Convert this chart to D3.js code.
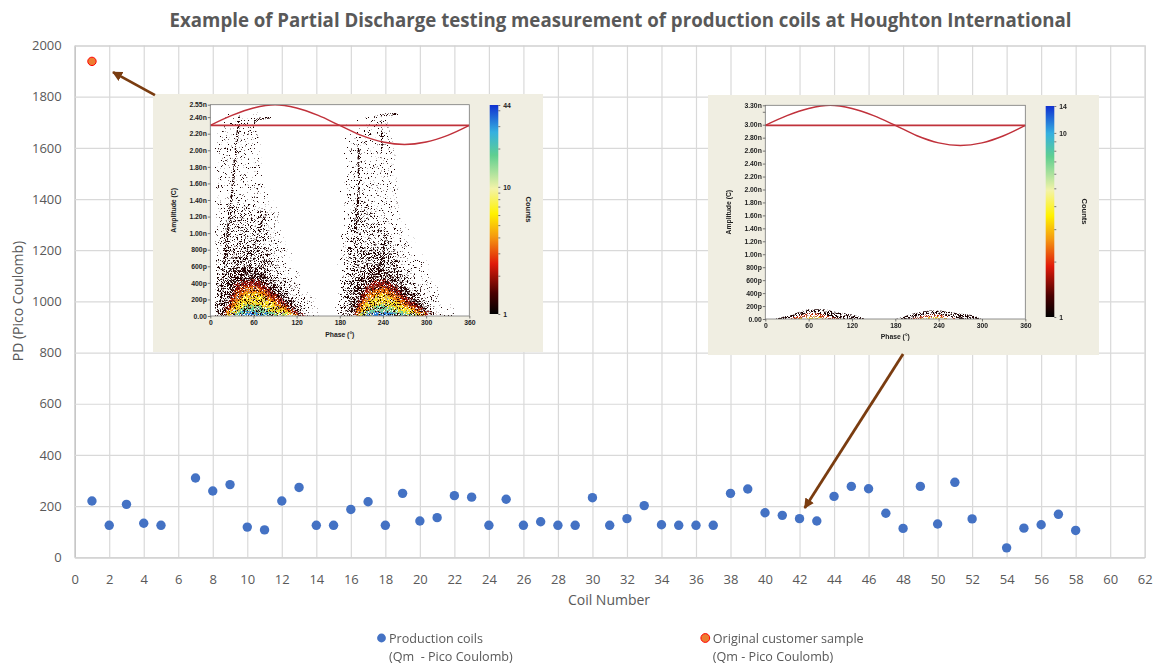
<!DOCTYPE html>
<html>
<head>
<meta charset="utf-8">
<title>Partial Discharge testing</title>
<script src="https://cdn.jsdelivr.net/npm/d3@7"></script>
<style>
  html, body { margin: 0; padding: 0; background: #fff; }
  text { font-family: "Open Sans", sans-serif; }
  .inset text { font-family: "Liberation Sans", sans-serif; font-weight: bold; fill: #222; }
</style>
</head>
<body>
<div id="chart"></div>
<script>
// main chart values
var coilNumbers = [1,2,3,4,5,7,8,9,10,11,12,13,14,15,16,17,18,19,20,21,22,23,24,25,26,27,28,29,30,31,32,33,34,35,36,37,38,39,40,41,42,43,44,45,46,47,48,49,50,51,52,54,55,56,57,58];
var pdValues = [220,125,207,133,125,310,259,284,118,107,220,273,125,125,187,217,125,250,142,155,241,235,125,227,125,139,125,125,233,125,151,202,127,125,125,125,250,267,174,164,151,142,238,277,268,172,113,277,130,293,150,37,114,127,168,105];
var customerCoil = [1];
var customerPd = [1938];
var xTicks = [0,2,4,6,8,10,12,14,16,18,20,22,24,26,28,30,32,34,36,38,40,42,44,46,48,50,52,54,56,58,60,62];
var yTicks = [0,200,400,600,800,1000,1200,1400,1600,1800,2000];

// annotation arrows in chart units: [coil, pC] tail then tip
var arrowOne = [[4.65,1806],[2.22,1896]];
var arrowTwo = [[48.0,794],[42.3,193]];

// the two phase resolved insets, upper limit of each density band per 10 degrees of phase
var phaseGrid = [0,10,20,30,40,50,60,70,80,90,100,110,120,130,140,150,160,170,180,190,200,210,220,230,240,250,260,270,280,290,300,310,320,330,340,350,360];
var phaseTicks = [0,60,120,180,240,300,360];
var refPhase = [0,30,60,90,120,150,180,210,240,270,300,330,360];

var ampTicksA = [0,0.2,0.4,0.6,0.8,1,1.2,1.4,1.6,1.8,2,2.2,2.4,2.55];
var ampLabelsA = ["0.00","200p","400p","600p","800p","1.00n","1.20n","1.40n","1.60n","1.80n","2.00n","2.20n","2.40n","2.55n"];
var sineA = [2.30,2.42,2.51,2.55,2.51,2.42,2.30,2.18,2.10,2.07,2.10,2.18,2.30];
var midA = [2.30,2.30];
var sparseA = [0,1.2,2.2,2.38,2.42,2.42,2.42,2.42,1.5,1.4,1.2,.85,.6,.4,.25,.12,0,0,0,1,2.2,2.2,2.35,2.45,2.45,2.45,2,1.2,1,.8,.7,.45,.35,.2,.12,0,0];
var middleA = [0,.25,.9,1.3,1.4,1.3,1.3,1.3,1.25,.8,.6,.45,.3,.15,.05,0,0,0,0,.4,1.1,1.4,1.4,1.3,1.1,1.05,.9,.6,.5,.4,.25,.12,.05,0,0,0,0];
var nearA = [0,.1,.55,.8,.85,.85,.85,.8,.7,.5,.38,.28,.2,.08,0,0,0,0,0,.2,.6,.8,.85,.85,.85,.8,.65,.42,.33,.25,.14,.06,0,0,0,0,0];
var denseA = [0,.05,.35,.56,.58,.6,.55,.5,.42,.35,.25,.17,.08,.02,0,0,0,0,0,.04,.32,.5,.55,.58,.55,.5,.42,.33,.25,.16,.08,.02,0,0,0,0,0];
var redA = [0,0,.15,.38,.42,.44,.42,.38,.3,.22,.14,.07,.02,0,0,0,0,0,0,0,.15,.33,.4,.43,.42,.36,.28,.2,.13,.07,.02,0,0,0,0,0,0];
var orangeA = [0,0,.08,.27,.33,.36,.34,.3,.23,.16,.1,.04,0,0,0,0,0,0,0,0,.08,.24,.31,.35,.33,.28,.21,.14,.09,.04,0,0,0,0,0,0,0];
var yellowA = [0,0,.03,.14,.24,.28,.27,.23,.17,.11,.06,.02,0,0,0,0,0,0,0,0,.03,.14,.22,.26,.24,.19,.14,.09,.05,.02,0,0,0,0,0,0,0];
var greenA = [0,0,0,.04,.11,.14,.12,.09,.06,.03,.01,0,0,0,0,0,0,0,0,0,0,.05,.1,.14,.12,.08,.05,.03,.01,0,0,0,0,0,0,0,0];
var blueA = [0,0,0,.01,.03,.05,.04,.03,.01,0,0,0,0,0,0,0,0,0,0,0,0,.015,.04,.055,.045,.03,.01,0,0,0,0,0,0,0,0,0,0];
// dark streaks of repeated discharges: [phase, amplitude]
var streaksA = [
  [[14,.2],[24,1],[30,1.45],[36,2.05],[41,2.42]],
  [[60,.8],[64,.95],[78,1.25]],
  [[202,1],[207,1.6],[206,2.05]],
  [[232,.5],[240,.75],[245,1]],
  [[238,2],[239,2.3]],
  [[60,2.34],[68,2.38],[85,2.4]],
  [[228,2.4],[248,2.43],[262,2.44]]
];
var countTicksA = [1,2,3,4,5,6,7,8,9,10,20,30,40,44];
var countLabelsA = [1,10,44];

var ampTicksB = [0,0.2,0.4,0.6,0.8,1,1.2,1.4,1.6,1.8,2,2.2,2.4,2.6,2.8,3,3.2,3.3];
var ampLabelsB = ["0.00","200p","400p","600p","800p","1.00n","1.20n","1.40n","1.60n","1.80n","2.00n","2.20n","2.40n","2.60n","2.80n","3.00n","","3.30n"];
var sineB = [2.99,3.14,3.25,3.30,3.25,3.14,2.99,2.83,2.72,2.68,2.72,2.83,2.99];
var midB = [2.99,2.99];
var sparseB = [0,0,.02,.05,.08,.12,.15,.15,.15,.13,.1,.09,.07,.04,0,0,0,0,0,.03,.07,.1,.12,.13,.13,.12,.1,.08,.07,.05,0,0,0,0,0,0,0];
var redB = [0,0,0,0,.03,.06,.09,.09,.07,.04,.01,0,0,0,0,0,0,0,0,0,0,.03,.06,.07,.07,.05,.02,0,0,0,0,0,0,0,0,0,0];
var yellowB = [0,0,0,0,0,.02,.04,.04,.02,0,0,0,0,0,0,0,0,0,0,0,0,0,.02,.03,.03,.01,0,0,0,0,0,0,0,0,0,0,0];
var countTicksB = [1,2,3,4,5,6,7,8,9,10,14];
var countLabelsB = [1,10,14];

// colour bar ramp, bottom to top
var rampOffsets = [0,.1,.24,.37,.48,.6,.76,.87,1];
var rampColors = ["#000000","#4a0000","#e01a0a","#f59a10","#fff200","#f3f3a8","#5fcf90","#35b0e0","#1030d0"];

var width = 1155, height = 665;
var margin = { left: 74.7, right: 1144.7, top: 45.5, bottom: 557.3 };

var svg = d3.select("#chart").append("svg")
  .attr("width", width)
  .attr("height", height)
  .style("display", "block");

var defs = svg.append("defs");

// grain textures for the insets, keeps a band's colour only where the noise is over the limit
function addGrain(id, limit, seed, rough) {
  var f = defs.append("filter").attr("id", id)
    .attr("x", 0).attr("y", 0).attr("width", 1).attr("height", 1)
    .attr("color-interpolation-filters", "sRGB");
  f.append("feTurbulence").attr("type", "fractalNoise").attr("baseFrequency", 1.3)
    .attr("numOctaves", 2).attr("seed", seed).attr("result", "n");
  f.append("feColorMatrix").attr("in", "n").attr("type", "matrix")
    .attr("values", "0 0 0 0 0 0 0 0 0 0 0 0 0 0 0 14 0 0 0 " + (-14 * limit)).attr("result", "m");
  f.append("feDisplacementMap").attr("in", "SourceGraphic").attr("in2", "n")
    .attr("scale", rough).attr("xChannelSelector", "R").attr("yChannelSelector", "G").attr("result", "d");
  f.append("feComposite").attr("in", "d").attr("in2", "m").attr("operator", "in");
}
addGrain("grainFaint", 0.65, 3, 45);
addGrain("grainMid", 0.6, 7, 45);
addGrain("grainNear", 0.57, 9, 40);
addGrain("grainDense", 0.5, 11, 24);
addGrain("grainStreak", 0.49, 13, 0);
addGrain("grainSolid", 0.42, 5, 14);
defs.append("filter").attr("id", "soft").append("feGaussianBlur").attr("stdDeviation", 0.35);

var ramp = defs.append("linearGradient").attr("id", "ramp")
  .attr("x1", 0).attr("x2", 0).attr("y1", 1).attr("y2", 0);
ramp.selectAll("stop").data(rampOffsets).enter().append("stop")
  .attr("offset", function (d) { return d; })
  .attr("stop-color", function (d, i) { return rampColors[i]; });

var x = d3.scaleLinear().domain([0, 62]).range([margin.left, margin.right]);
var y = d3.scaleLinear().domain([0, 2000]).range([margin.bottom, margin.top]);

// title
svg.append("text")
  .attr("x", 620.5).attr("y", 27)
  .attr("text-anchor", "middle")
  .style("font-size", "18.67px").style("font-weight", "bold").style("fill", "#595959")
  .text("Example of Partial Discharge testing measurement of production coils at Houghton International");

// axes and grid
var xAxis = svg.append("g")
  .attr("transform", "translate(0," + margin.bottom + ")")
  .call(d3.axisBottom(x).tickValues(xTicks).tickFormat(d3.format("d")).tickSize(-(margin.bottom - margin.top)).tickPadding(17));
var yAxis = svg.append("g")
  .attr("transform", "translate(" + margin.left + ",0)")
  .call(d3.axisLeft(y).tickValues(yTicks).tickFormat(d3.format("d")).tickSize(-(margin.right - margin.left)).tickPadding(13));
[xAxis, yAxis].forEach(function (a) {
  a.selectAll(".tick line").attr("stroke", "#d9d9d9").attr("stroke-width", 1.2);
  a.selectAll("text").style("font-size", "13px").style("fill", "#595959").style("font-family", '"Open Sans", sans-serif');
  a.select(".domain").attr("stroke", "#bfbfbf").attr("stroke-width", 1);
});

svg.append("text")
  .attr("x", 609).attr("y", 605).attr("text-anchor", "middle")
  .style("font-size", "14px").style("fill", "#595959")
  .text("Coil Number");
svg.append("text")
  .attr("transform", "translate(23,301) rotate(-90)").attr("text-anchor", "middle")
  .style("font-size", "14px").style("fill", "#595959")
  .text("PD (Pico Coulomb)");

// points
svg.append("g").selectAll("circle")
  .data(pdValues).enter().append("circle")
  .attr("cx", function (d, i) { return x(coilNumbers[i]); })
  .attr("cy", function (d) { return y(d); })
  .attr("r", 4.7)
  .attr("fill", "#4472c4");
svg.append("g").selectAll("circle")
  .data(customerPd).enter().append("circle")
  .attr("cx", function (d, i) { return x(customerCoil[i]); })
  .attr("cy", function (d) { return y(d); })
  .attr("r", 4.2)
  .attr("fill", "#ed7d31")
  .attr("stroke", "#ff0000")
  .attr("stroke-width", 1);

function drawInset(cfg) {
  var g = svg.append("g").attr("class", "inset");
  g.append("rect")
    .attr("x", cfg.box[0]).attr("y", cfg.box[1])
    .attr("width", cfg.box[2]).attr("height", cfg.box[3])
    .attr("fill", "#f0eee2");

  var px = d3.scaleLinear().domain([0, 360]).range([cfg.plot[0], cfg.plot[1]]);
  var py = d3.scaleLinear().domain([0, cfg.ampMax]).range([cfg.plot[3], cfg.plot[2]]);

  g.append("rect")
    .attr("x", cfg.plot[0]).attr("y", cfg.plot[2])
    .attr("width", cfg.plot[1] - cfg.plot[0]).attr("height", cfg.plot[3] - cfg.plot[2])
    .attr("fill", "#fff");

  var clipId = "clip" + cfg.id;
  defs.append("clipPath").attr("id", clipId).append("rect")
    .attr("x", cfg.plot[0]).attr("y", cfg.plot[2])
    .attr("width", cfg.plot[1] - cfg.plot[0]).attr("height", cfg.plot[3] - cfg.plot[2]);

  var marks = g.append("g").attr("clip-path", "url(#" + clipId + ")").append("g").attr("filter", "url(#soft)");
  var area = d3.area()
    .x(function (d, i) { return px(phaseGrid[i] + cfg.grainShift); })
    .y0(py(0))
    .y1(function (d) { return py(d); })
    .curve(d3.curveMonotoneX);

  cfg.bands.forEach(function (b) {
    marks.append("path").attr("d", area(b.values))
      .attr("fill", b.color)
      .attr("filter", "url(#" + b.grain + ")");
  });

  var streak = d3.line()
    .x(function (d) { return px(d[0]); })
    .y(function (d) { return py(d[1]); });
  cfg.streaks.forEach(function (s) {
    marks.append("path").attr("d", streak(s))
      .attr("fill", "none").attr("stroke", "#200303").attr("stroke-width", 2.4)
      .attr("filter", "url(#grainStreak)");
  });

  // reference sine and zero line
  var sine = d3.line()
    .x(function (d, i) { return px(refPhase[i]); })
    .y(function (d) { return py(d); })
    .curve(d3.curveCatmullRom);
  marks.append("path").attr("d", sine(cfg.sine)).attr("fill", "none").attr("stroke", "#c0303a").attr("stroke-width", 1.4);
  marks.append("line")
    .attr("x1", px(0)).attr("x2", px(360))
    .attr("y1", py(cfg.mid[0])).attr("y2", py(cfg.mid[1]))
    .attr("stroke", "#c0303a").attr("stroke-width", 1.6);

  g.append("rect")
    .attr("x", cfg.plot[0]).attr("y", cfg.plot[2])
    .attr("width", cfg.plot[1] - cfg.plot[0]).attr("height", cfg.plot[3] - cfg.plot[2])
    .attr("fill", "none").attr("stroke", "#777").attr("stroke-width", 0.8);

  var axB = g.append("g").attr("transform", "translate(0," + cfg.plot[3] + ")")
    .call(d3.axisBottom(px).tickValues(phaseTicks).tickSize(2.5).tickPadding(2));
  var axL = g.append("g").attr("transform", "translate(" + cfg.plot[0] + ",0)")
    .call(d3.axisLeft(py).tickValues(cfg.ampTicks).tickSize(2.5).tickPadding(1)
      .tickFormat(function (d, i) { return cfg.ampLabels[i]; }));

  var cb = d3.scaleLog().domain([1, cfg.countMax]).range([cfg.bar[3], cfg.bar[2]]);
  g.append("rect")
    .attr("x", cfg.bar[0]).attr("y", cfg.bar[2])
    .attr("width", cfg.bar[1] - cfg.bar[0]).attr("height", cfg.bar[3] - cfg.bar[2])
    .attr("fill", "url(#ramp)");
  var axC = g.append("g").attr("transform", "translate(" + cfg.bar[1] + ",0)")
    .call(d3.axisRight(cb).tickValues(cfg.countTicks).tickSize(2).tickPadding(3)
      .tickFormat(function (d) { return cfg.countLabels.indexOf(d) >= 0 ? d : ""; }));

  [axB, axL, axC].forEach(function (a) {
    a.select(".domain").remove();
    a.selectAll("line").attr("stroke", "#444").attr("stroke-width", 0.7);
    a.selectAll("text").style("font-size", "6.8px").style("font-family", '"Liberation Sans", sans-serif').style("font-weight", "bold").style("fill", "#222");
  });

  g.append("text")
    .attr("x", (cfg.plot[0] + cfg.plot[1]) / 2).attr("y", cfg.plot[3] + cfg.phaseTitleGap)
    .attr("text-anchor", "middle").style("font-size", "6.8px")
    .text("Phase (\u00b0)");
  g.append("text")
    .attr("transform", "translate(" + cfg.ampTitleX + "," + (cfg.plot[2] + cfg.plot[3]) / 2 + ") rotate(-90)")
    .attr("text-anchor", "middle").style("font-size", "6.8px")
    .text("Amplitude (C)");
  g.append("text")
    .attr("transform", "translate(" + cfg.countTitleX + "," + (cfg.bar[2] + cfg.bar[3]) / 2 + ") rotate(90)")
    .attr("text-anchor", "middle").style("font-size", "7.6px")
    .text("Counts");
}

drawInset({
  id: "A", box: [153, 94, 390, 258], plot: [210.3, 469.3, 104.7, 316], bar: [489.7, 498.3, 105, 314],
  ampMax: 2.55, ampTicks: ampTicksA, ampLabels: ampLabelsA, countMax: 44, countTicks: countTicksA, countLabels: countLabelsA,
  sine: sineA, mid: midA, streaks: streaksA, ampTitleX: 176, countTitleX: 525.5, phaseTitleGap: 21, grainShift: 7,
  bands: [
    { values: sparseA, color: "#1c0404", grain: "grainFaint" },
    { values: middleA, color: "#1c0404", grain: "grainMid" },
    { values: nearA, color: "#1c0404", grain: "grainNear" },
    { values: denseA, color: "#2a0503", grain: "grainDense" },
    { values: redA, color: "#a01208", grain: "grainSolid" },
    { values: orangeA, color: "#ee7a10", grain: "grainSolid" },
    { values: yellowA, color: "#fbe62c", grain: "grainSolid" },
    { values: greenA, color: "#70d0a0", grain: "grainSolid" },
    { values: blueA, color: "#2a80e0", grain: "grainSolid" }
  ]
});
drawInset({
  id: "B", box: [708, 95, 391, 260], plot: [765.3, 1025.3, 105.3, 319], bar: [1045.7, 1054.3, 106, 317],
  ampMax: 3.3, ampTicks: ampTicksB, ampLabels: ampLabelsB, countMax: 14, countTicks: countTicksB, countLabels: countLabelsB,
  sine: sineB, mid: midB, streaks: [], ampTitleX: 731, countTitleX: 1082, phaseTitleGap: 20, grainShift: 0,
  bands: [
    { values: sparseB, color: "#1c0404", grain: "grainStreak" },
    { values: redB, color: "#c83010", grain: "grainStreak" },
    { values: yellowB, color: "#f5d830", grain: "grainStreak" }
  ]
});

// arrows
defs.append("marker").attr("id", "arrowHead")
  .attr("viewBox", "0 0 10 10").attr("refX", 9).attr("refY", 5)
  .attr("markerWidth", 3.6).attr("markerHeight", 3.6).attr("markerUnits", "strokeWidth")
  .attr("orient", "auto")
  .append("path").attr("d", "M0,0L10,5L0,10Z").attr("fill", "#7a3c10");
[arrowOne, arrowTwo].forEach(function (a) {
  svg.append("line")
    .attr("x1", x(a[0][0])).attr("y1", y(a[0][1]))
    .attr("x2", x(a[1][0])).attr("y2", y(a[1][1]))
    .attr("stroke", "#7a3c10").attr("stroke-width", 2.8)
    .attr("marker-end", "url(#arrowHead)");
});

// legend
var legendItems = ["Production coils", "Original customer sample"];
var legendSub = ["(Qm  - Pico Coulomb)", "(Qm - Pico Coulomb)"];
var legendFill = ["#4472c4", "#ed7d31"];
var legendStroke = ["none", "#ff0000"];
var legendX = [381.5, 705.3];
legendItems.forEach(function (t, i) {
  svg.append("circle").attr("cx", legendX[i]).attr("cy", 638).attr("r", 4.4)
    .attr("fill", legendFill[i]).attr("stroke", legendStroke[i]);
  svg.append("text").attr("x", legendX[i] + 7.5).attr("y", 643)
    .style("font-size", "12.6px").style("fill", "#595959").text(t);
  svg.append("text").attr("x", legendX[i] + 7.5).attr("y", 661)
    .style("font-size", "12.6px").style("fill", "#595959").style("white-space", "pre").text(legendSub[i]);
});
</script>
</body>
</html>
